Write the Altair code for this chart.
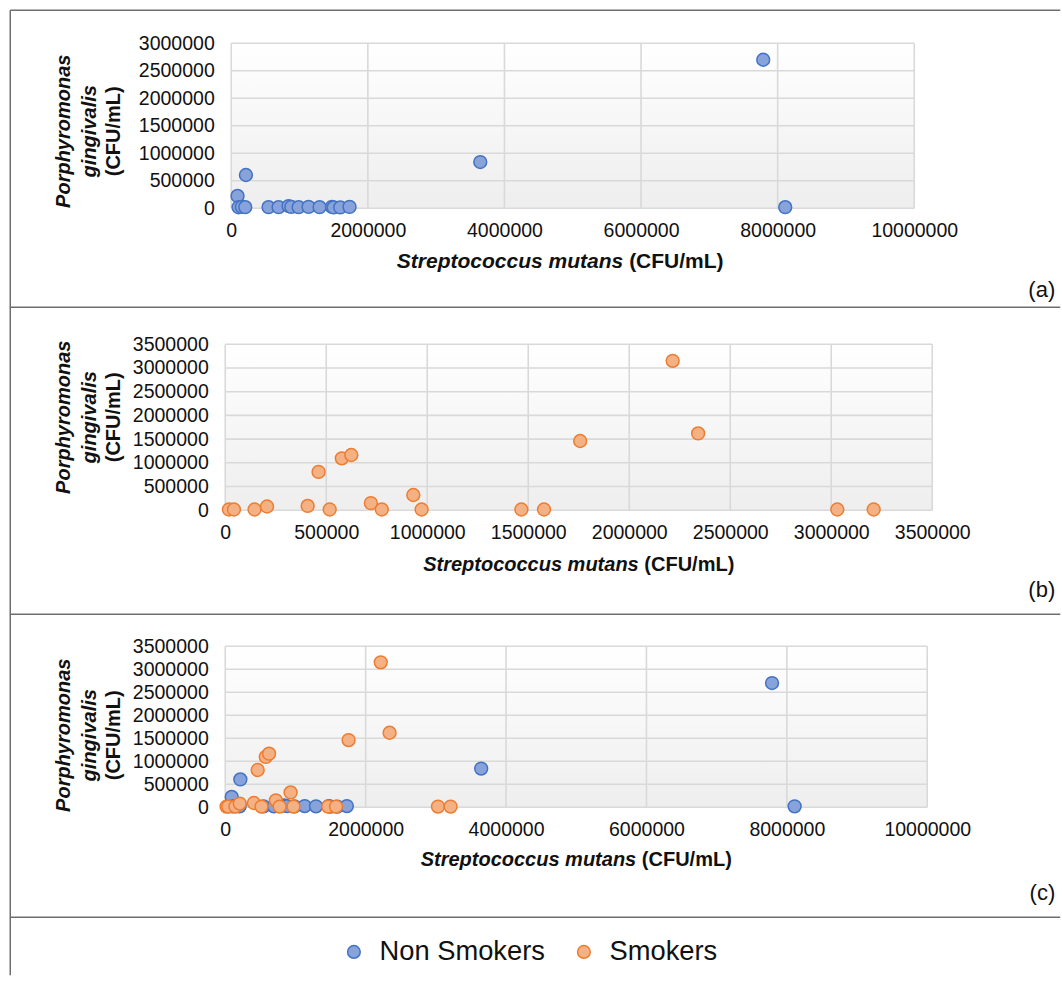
import altair as alt
import pandas as pd

# ---------------- data ----------------
GROUPS = ["Non Smokers", "Smokers"]
FILL_COLORS = ["#87a3da", "#f4b183"]
STROKE_COLORS = ["#4472c4", "#ed7d31"]

# Non smokers: Streptococcus mutans (x) / Porphyromonas gingivalis (y), CFU/mL
ns_sm = [92000, 107000, 156000, 205000, 215000, 546000, 693000, 839000, 880000,
         986000, 1132000, 1293000, 1474000, 1500000, 1596000, 1732000,
         3646000, 7789000, 8111000]
ns_pg = [224000, 18000, 25000, 20000, 605000, 20000, 20000, 40000, 25000,
         20000, 25000, 20000, 25000, 15000, 15000, 25000,
         840000, 2700000, 20000]

# Smokers
s_sm = [18000, 43000, 145000, 207000, 408000, 462000, 517000, 577000, 624000,
        721000, 775000, 931000, 972000, 1466000, 1578000, 1757000, 2215000,
        2341000, 3030000, 3210000]
s_pg = [15000, 15000, 15000, 80000, 92000, 809000, 15000, 1094000, 1165000,
        150000, 15000, 322000, 15000, 15000, 15000, 1460000, 3150000,
        1620000, 15000, 15000]

X_TICKS_WIDE = [0, 2000000, 4000000, 6000000, 8000000, 10000000]
X_TICKS_SMOKERS = [0, 500000, 1000000, 1500000, 2000000, 2500000, 3000000, 3500000]
Y_TICKS_A = [0, 500000, 1000000, 1500000, 2000000, 2500000, 3000000]
Y_TICKS_BC = [0, 500000, 1000000, 1500000, 2000000, 2500000, 3000000, 3500000]

Y_TITLE = ["Porphyromonas", "gingivalis", "(CFU/mL)"]
X_TITLE = ["Streptococcus mutans", "(CFU/mL)"]
TAGS = ["(a)", "(b)", "(c)"]

df = pd.DataFrame({
    "group": [GROUPS[0]] * len(ns_sm) + [GROUPS[1]] * len(s_sm),
    "sm": ns_sm + s_sm,
    "pg": ns_pg + s_pg,
})

# ---------------- styling ----------------
FONT = "Liberation Sans"
TEXT = "#111111"
GRID = "#d9d9d9"
BORDER = "#6e6e6e"
ONE = pd.DataFrame({"k": [0]})
GRAD = alt.LinearGradient(
    gradient="linear",
    stops=[alt.GradientStop(color="#ffffff", offset=0),
           alt.GradientStop(color="#eeeeee", offset=1)],
    x1=0, x2=0, y1=0, y2=1,
)

LEGEND = alt.Legend(
    orient="none", legendX=115, legendY=895, direction="horizontal", title=None,
    labelFont=FONT, labelFontSize=27.3, labelColor=TEXT, labelLimit=400,
    symbolType="circle", symbolSize=160, symbolStrokeWidth=1.5, labelOffset=12,
    columnPadding=25, padding=0,
)


def text_layer(txt, x, y, size, weight="normal", style="normal", align="center", angle=None):
    kw = dict(font=FONT, fontSize=size, fontWeight=weight, fontStyle=style,
              align=align, baseline="middle", color=TEXT)
    if angle is not None:
        kw["angle"] = angle
    return alt.Chart(pd.DataFrame({"t": [txt]})).mark_text(**kw).encode(
        text="t:N", x=alt.value(x), y=alt.value(y))


def rule_layer(x, y, x2=None, y2=None):
    enc = dict(x=alt.value(x), y=alt.value(y))
    if x2 is not None:
        enc["x2"] = alt.value(x2)
    if y2 is not None:
        enc["y2"] = alt.value(y2)
    return alt.Chart(ONE).mark_rule(color=BORDER, strokeWidth=1.5).encode(**enc)


def panel(data, w, h, xticks, yticks, ytitle_cy, xtitle_cx, xtitle_cy, tag, tag_y,
          xt_size=20, left=0):
    xs = alt.Scale(domain=[xticks[0], xticks[-1]], nice=False, range=[left, w])
    ys = alt.Scale(domain=[yticks[0], yticks[-1]], nice=False)
    common = dict(title=None, grid=False, domain=False, ticks=False, tickSize=0,
                  labelFont=FONT, labelFontSize=19.5, labelColor=TEXT,
                  labelFlush=False, labelOverlap=False, format="d")
    xaxis = alt.Axis(values=xticks, labelPadding=13, **common)
    yaxis = alt.Axis(values=yticks, labelPadding=17 - left, **common)

    bg = alt.Chart(ONE).mark_rect(color=GRAD).encode(
        x=alt.value(left), x2=alt.value(w), y=alt.value(0), y2=alt.value(h))
    gx = alt.Chart(pd.DataFrame({"v": xticks})).mark_rule(color=GRID, strokeWidth=1.6).encode(
        x=alt.X("v:Q", scale=xs, axis=xaxis))
    gy = alt.Chart(pd.DataFrame({"v": yticks})).mark_rule(color=GRID, strokeWidth=1.6).encode(
        y=alt.Y("v:Q", scale=ys, axis=yaxis), x=alt.value(left), x2=alt.value(w))
    pts = alt.Chart(data).mark_circle(size=165, strokeWidth=1.5, opacity=1).encode(
        x=alt.X("sm:Q", scale=xs, axis=xaxis),
        y=alt.Y("pg:Q", scale=ys, axis=yaxis),
        fill=alt.Fill("group:N", scale=alt.Scale(domain=GROUPS, range=FILL_COLORS), legend=LEGEND),
        stroke=alt.Stroke("group:N", scale=alt.Scale(domain=GROUPS, range=STROKE_COLORS), legend=LEGEND),
    )

    # axis titles (mixed italic / upright pieces)
    yt = [
        text_layer(Y_TITLE[0], -161, ytitle_cy, 20, "bold", "italic", angle=270),
        text_layer(Y_TITLE[1], -135, ytitle_cy, 20, "bold", "italic", angle=270),
        text_layer(Y_TITLE[2], -111, ytitle_cy, 20, "bold", "normal", angle=270),
    ]
    k = xt_size / 20.0
    split = xtitle_cx + 60 * k
    xt = [
        text_layer(X_TITLE[0], split, xtitle_cy, xt_size, "bold", "italic", align="right"),
        text_layer(X_TITLE[1], split + 5.6 * k, xtitle_cy, xt_size, "bold", "normal", align="left"),
    ]
    tg = text_layer(tag, 830, tag_y, 22, align="right")
    return [bg, gx, gy, pts] + yt + xt + [tg]


# ---------------- panels ----------------
WA, HA = 689, 165
WB, HB = 707, 166
WC, HC = 702, 161

la = panel(df[df.group == GROUPS[0]], WA, HA, X_TICKS_WIDE, Y_TICKS_A,
           88, 335, 219, TAGS[0], 247, xt_size=21, left=6)
la += [
    rule_layer(-215, -33, x2=835),            # top border
    rule_layer(-215, -33, y2=932),            # left border
    rule_layer(-215, 264, x2=835),            # a / b separator
]
pa = alt.layer(*la).properties(width=WA, height=HA)

lb = panel(df[df.group == GROUPS[1]], WB, HB, X_TICKS_SMOKERS, Y_TICKS_BC,
           73, WB / 2, 221, TAGS[1], 246)
lb += [rule_layer(-215, 270, x2=835)]        # b / c separator
pb = alt.layer(*lb).properties(width=WB, height=HB)

lc = panel(df, WC, HC, X_TICKS_WIDE, Y_TICKS_BC,
           89, WC / 2, 214, TAGS[2], 247)
lc += [rule_layer(-215, 271, x2=835)]        # c / legend separator
pc = alt.layer(*lc).properties(width=WC, height=HC)

chart = (
    alt.vconcat(pa, pb, pc, spacing=136, bounds="flush")
    .properties(padding={"left": 9.25, "top": 9.25, "right": 0, "bottom": 0},
                background="white")
    .configure_view(stroke=None)
)

chart.save("out.html", embed_options={"renderer": "svg", "actions": False})
